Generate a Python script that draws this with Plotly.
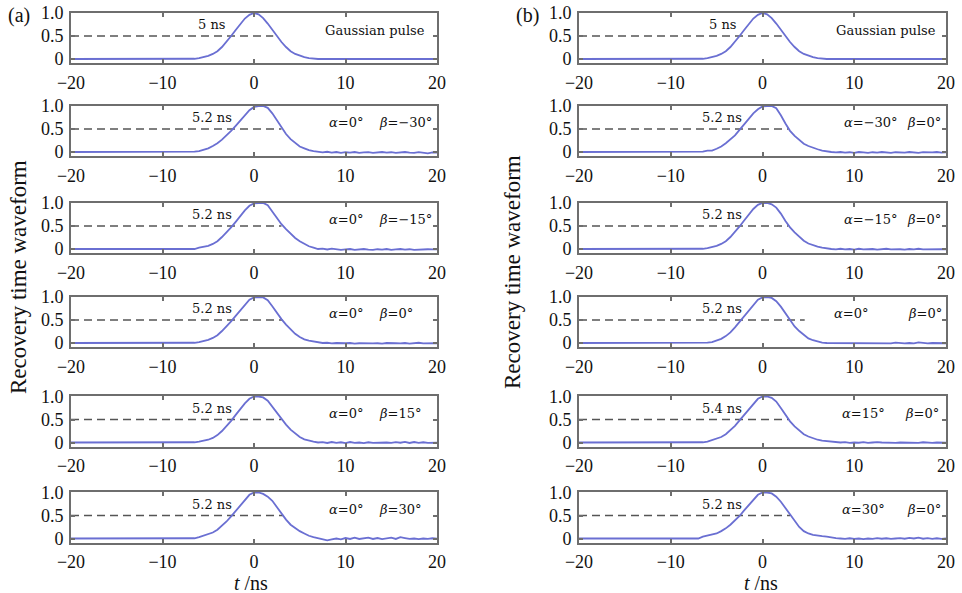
import plotly.graph_objects as go

# ---------------- data ----------------
t_ns = [-20,
        -7.5, -7, -6.5, -6, -5.5, -5, -4.5, -4, -3.5, -3, -2.5, -2, -1.5, -1, -0.5,
        0, 0.5, 1, 1.5, 2, 2.5, 3, 3.5, 4, 4.5, 5, 5.5, 6, 6.5, 7, 7.5,
        8, 8.5, 9, 9.5, 10, 10.5, 11, 11.5, 12, 12.5, 13, 13.5, 14, 14.5, 15,
        15.5, 16, 16.5, 17, 17.5, 18, 18.5, 19, 19.5, 20]

gaussian_pulse = [0,
    0, 0, 0.005, 0.02, 0.04, 0.07, 0.11, 0.17, 0.26, 0.37, 0.50, 0.63, 0.76, 0.88, 0.96,
    1.0, 0.97, 0.89, 0.77, 0.63, 0.50, 0.37, 0.26, 0.17, 0.11, 0.07, 0.04, 0.02, 0.005, 0, 0,
    0, 0, 0, 0, 0, 0, 0, 0, 0, 0, 0, 0, 0, 0, 0, 0, 0, 0, 0, 0, 0, 0, 0, 0, 0]

# (a) alpha = 0, beta varies
a_beta_m30 = [0,
    0, 0, 0.01, 0.02, 0.05, 0.08, 0.13, 0.19, 0.27, 0.36, 0.46, 0.57, 0.69, 0.80, 0.91,
    0.98, 1.0, 1.0, 0.96, 0.84, 0.68, 0.52, 0.39, 0.28, 0.19, 0.12, 0.08, 0.04, 0.02, 0.0, -0.01,
    0.005, -0.015, 0.0, -0.02, -0.005, -0.015, 0.0, -0.02, -0.01, -0.005, -0.02, -0.01, 0.0,
    -0.015, -0.005, -0.02, -0.01, 0.0, -0.015, -0.02, -0.005, -0.02, -0.03, -0.01, -0.015]
a_beta_m15 = [0,
    0, 0, 0, 0.03, 0.05, 0.07, 0.11, 0.17, 0.26, 0.36, 0.47, 0.59, 0.72, 0.84, 0.94,
    0.99, 1.0, 1.0, 0.95, 0.81, 0.67, 0.54, 0.43, 0.33, 0.24, 0.17, 0.11, 0.06, 0.03, 0.0, 0.01,
    -0.01, 0.01, -0.01, -0.02, -0.01, 0.0, -0.02, -0.01, 0.0, -0.015, -0.02, -0.005, -0.015,
    0.0, -0.02, -0.01, 0.0, -0.015, -0.005, -0.02, -0.01, -0.015, -0.005, -0.01, -0.01]
a_beta_0 = [0,
    0, 0, 0.005, 0.02, 0.04, 0.07, 0.11, 0.17, 0.26, 0.36, 0.47, 0.59, 0.71, 0.83, 0.94,
    0.99, 1.0, 0.99, 0.93, 0.80, 0.65, 0.52, 0.40, 0.29, 0.20, 0.13, 0.08, 0.05, 0.03, 0.01, 0.0,
    0.005, -0.01, 0.0, -0.01, -0.005, 0.0, -0.015, -0.005, -0.01, 0.0, -0.01, -0.005, -0.015,
    0.0, -0.01, -0.005, -0.01, 0.0, -0.015, -0.005, 0.005, -0.01, -0.005, -0.015, -0.005]
a_beta_15 = [0,
    0, 0, 0.005, 0.02, 0.04, 0.06, 0.10, 0.16, 0.25, 0.35, 0.47, 0.60, 0.73, 0.85, 0.95,
    1.0, 1.0, 0.98, 0.91, 0.78, 0.64, 0.51, 0.39, 0.28, 0.19, 0.12, 0.07, 0.04, 0.02, 0.0, 0.01,
    -0.01, 0.01, -0.01, 0.005, -0.015, 0.01, -0.01, 0.0, -0.015, 0.005, -0.01, -0.005, -0.015,
    0.0, -0.01, 0.01, -0.005, 0.015, -0.01, 0.01, -0.01, 0.005, -0.01, 0.0, -0.005]
a_beta_30 = [0,
    0, 0, 0.005, 0.03, 0.06, 0.09, 0.13, 0.19, 0.27, 0.37, 0.48, 0.60, 0.73, 0.85, 0.95,
    1.0, 1.0, 0.97, 0.91, 0.82, 0.68, 0.54, 0.41, 0.30, 0.22, 0.16, 0.11, 0.06, 0.03, 0.01, -0.02,
    -0.04, -0.02, 0.0, -0.02, 0.01, -0.01, 0.02, -0.01, 0.0, 0.02, -0.01, 0.01, -0.015,
    0.0, 0.02, -0.01, 0.03, 0.01, -0.01, 0.0, -0.015, 0.0, -0.01, 0.005, -0.005]

# (b) beta = 0, alpha varies
b_alpha_m30 = [0,
    0, 0, 0.01, 0.03, 0.03, 0.07, 0.12, 0.19, 0.27, 0.36, 0.48, 0.60, 0.73, 0.84, 0.93,
    0.99, 1.0, 1.0, 0.95, 0.80, 0.62, 0.46, 0.35, 0.26, 0.18, 0.13, 0.09, 0.06, 0.03, 0.01, 0.0,
    -0.01, 0.0, -0.015, -0.005, -0.02, 0.0, -0.01, -0.02, -0.005, -0.015, 0.0, -0.01, -0.02,
    -0.005, -0.01, -0.015, 0.0, -0.01, -0.02, -0.005, -0.015, -0.01, 0.0, -0.015, -0.01]
b_alpha_m15 = [0,
    0, 0, 0.005, 0.02, 0.04, 0.07, 0.11, 0.17, 0.26, 0.37, 0.49, 0.62, 0.75, 0.87, 0.96,
    1.0, 1.0, 0.97, 0.90, 0.77, 0.61, 0.47, 0.36, 0.26, 0.18, 0.12, 0.08, 0.05, 0.03, 0.01, 0.0,
    -0.01, 0.005, -0.01, 0.0, -0.015, 0.005, -0.01, -0.005, 0.0, -0.015, -0.005, 0.005, -0.01,
    0.0, -0.005, -0.015, 0.0, -0.01, 0.005, -0.01, -0.005, 0.0, -0.01, -0.005, -0.01]
b_alpha_0 = [0,
    0, 0, 0, 0.01, 0.02, 0.05, 0.09, 0.15, 0.23, 0.34, 0.46, 0.58, 0.70, 0.83, 0.94,
    0.99, 1.0, 0.98, 0.91, 0.79, 0.64, 0.49, 0.36, 0.26, 0.17, 0.10, 0.06, 0.03, 0.01, 0.0, 0.0,
    -0.005, 0.0, -0.01, 0.0, -0.005, -0.01, 0.0, -0.005, -0.01, 0.0, -0.005, 0.0, -0.01,
    0.01, -0.005, -0.01, 0.0, -0.01, 0.015, -0.005, -0.01, 0.0, -0.005, 0.0, -0.005]
b_alpha_15 = [0,
    0, 0, 0.005, 0.02, 0.05, 0.08, 0.12, 0.18, 0.26, 0.36, 0.48, 0.60, 0.73, 0.85, 0.95,
    1.0, 1.0, 0.97, 0.89, 0.75, 0.60, 0.46, 0.35, 0.26, 0.18, 0.13, 0.09, 0.06, 0.04, 0.03, 0.02,
    0.01, 0.0, 0.01, -0.01, 0.0, -0.005, 0.01, -0.01, 0.0, 0.01, 0.0, -0.005, 0.005,
    -0.01, 0.0, -0.005, -0.01, 0.0, -0.01, 0.005, -0.005, -0.01, 0.0, -0.005, -0.005]
b_alpha_30 = [0,
    0, 0, 0.04, 0.06, 0.08, 0.11, 0.16, 0.22, 0.30, 0.39, 0.49, 0.61, 0.73, 0.85, 0.95,
    1.0, 1.0, 0.98, 0.91, 0.80, 0.66, 0.51, 0.37, 0.25, 0.16, 0.11, 0.08, 0.06, 0.05, 0.04, 0.02,
    0.01, 0.0, -0.01, 0.005, -0.01, 0.0, -0.015, 0.0, -0.01, 0.01, -0.005, 0.005, -0.01,
    0.0, 0.01, -0.005, 0.015, 0.0, 0.02, -0.005, 0.01, -0.01, 0.005, -0.01, 0.0]

series_a = [gaussian_pulse, a_beta_m30, a_beta_m15, a_beta_0, a_beta_15, a_beta_30]
series_b = [gaussian_pulse, b_alpha_m30, b_alpha_m15, b_alpha_0, b_alpha_15, b_alpha_30]

fwhm_a = ["5 ns", "5.2 ns", "5.2 ns", "5.2 ns", "5.2 ns", "5.2 ns"]
fwhm_b = ["5 ns", "5.2 ns", "5.2 ns", "5.2 ns", "5.4 ns", "5.2 ns"]
alpha_a = [None, "0°", "0°", "0°", "0°", "0°"]
beta_a = [None, "−30°", "−15°", "0°", "15°", "30°"]
alpha_b = [None, "−30°", "−15°", "0°", "15°", "30°"]
beta_b = [None, "0°", "0°", "0°", "0°", "0°"]
half_level = 0.5
dash_end_a = [2.1, 3.0, 3.0, 3.1, 3.0, 3.2]
dash_end_b = [2.1, 2.8, 2.8, 4.6, 2.8, 3.0]

x_ticks = [-20, -10, 0, 10, 20]
y_ticks = [0, 0.5, 1.0]
y_ticktext = ["0", "0.5", "1.0"]

# ---------------- layout ----------------
W, H = 962, 593
row_one_px = [13, 106, 203, 297, 396.5, 492.5]   # pixel row of y = 1.0
unit_px = 46
y_lo, y_hi = -0.09, 1.01
col_px = [(71, 437), (579, 946)]

alpha_x_a = [None, 8.0, 8.0, 8.0, 8.0, 8.0]
beta_x_a = [None, 13.4, 13.4, 13.4, 13.4, 13.4]
alpha_x_b = [None, 8.66, 8.66, 7.6, 8.4, 8.4]
beta_x_b = [None, 15.5, 15.5, 15.6, 15.3, 15.5]
gauss_x = [13.2, 13.5]
fwhm_x = [-4.6, -4.4]

SERIF = "Liberation Serif, Times New Roman, Times, serif"
curve_color = "#6a6fd2"
frame_color = "#6e6e6e"
tick_font = dict(family=SERIF, size=18, color="#111")
ann_font = dict(family="DejaVu Serif, serif", size=13, color="#111")

fig = go.Figure()
layout = dict(width=W, height=H, margin=dict(l=0, r=0, t=0, b=0, autoexpand=False),
              autosize=False, paper_bgcolor="white", plot_bgcolor="white",
              showlegend=False, template="none", font=dict(family=SERIF))
annotations = []

for c, (series, fwhm, alist, blist, dend, ax_x, bx_x) in enumerate([
        (series_a, fwhm_a, alpha_a, beta_a, dash_end_a, alpha_x_a, beta_x_a),
        (series_b, fwhm_b, alpha_b, beta_b, dash_end_b, alpha_x_b, beta_x_b)]):
    for r in range(6):
        k = c * 6 + r + 1
        xa = "x" if k == 1 else f"x{k}"
        ya = "y" if k == 1 else f"y{k}"
        assert len(series[r]) == len(t_ns)
        px1 = row_one_px[r]
        top_px = px1 - (y_hi - 1.0) * unit_px
        bot_px = px1 + (1.0 - y_lo) * unit_px
        x0, x1 = col_px[c]
        axis_common = dict(showline=True, mirror="ticks", linecolor=frame_color, linewidth=2,
                           ticks="inside", ticklen=4, tickwidth=1.5, tickcolor=frame_color,
                           showgrid=False, zeroline=False, tickfont=tick_font,
                           automargin=False)
        layout["xaxis" if k == 1 else f"xaxis{k}"] = dict(
            domain=[x0 / W, x1 / W], range=[-20, 20], anchor=ya,
            tickvals=x_ticks, ticklabelstandoff=2, **axis_common)
        layout["yaxis" if k == 1 else f"yaxis{k}"] = dict(
            domain=[1 - bot_px / H, 1 - top_px / H], range=[y_lo, y_hi], anchor=xa,
            tickvals=y_ticks, ticktext=y_ticktext, ticklabelstandoff=2, **axis_common)

        fig.add_trace(go.Scatter(x=[t_ns[0], dend[r]], y=[half_level, half_level],
                                 mode="lines", xaxis=xa, yaxis=ya,
                                 line=dict(color="#555555", width=1.5, dash="8px,5px")))
        fig.add_trace(go.Scatter(x=t_ns, y=series[r], mode="lines", xaxis=xa, yaxis=ya,
                                 line=dict(color=curve_color, width=1.8)))

        annotations.append(dict(x=fwhm_x[c], y=0.74, xref=xa, yref=ya, text=fwhm[r],
                                showarrow=False, font=ann_font, xanchor="center",
                                yanchor="middle"))
        if r == 0:
            annotations.append(dict(x=gauss_x[c], y=0.62, xref=xa, yref=ya,
                                    text="Gaussian pulse", showarrow=False,
                                    font=ann_font, xanchor="center", yanchor="middle"))
        else:
            annotations.append(dict(x=ax_x[r], y=0.64, xref=xa, yref=ya,
                                    text="<i>α</i>=" + alist[r], showarrow=False,
                                    font=ann_font, xanchor="left", yanchor="middle"))
            annotations.append(dict(x=bx_x[r], y=0.64, xref=xa, yref=ya,
                                    text="<i>β</i>=" + blist[r], showarrow=False,
                                    font=ann_font, xanchor="left", yanchor="middle"))

title_font = dict(family=SERIF, size=23, color="#111")
label_font = dict(family=SERIF, size=20, color="#111")
panel_font = dict(family=SERIF, size=20, color="#111")
paper_texts = [
    (18, 277, "Recovery time waveform", -90, title_font),
    (513, 272, "Recovery time waveform", -90, title_font),
    (251, 583, "<i>t</i> /ns", 0, label_font),
    (761, 583, "<i>t</i> /ns", 0, label_font),
    (19, 15, "(a)", 0, panel_font),
    (527, 15, "(b)", 0, panel_font),
]
for px, py, txt, ang, fnt in paper_texts:
    annotations.append(dict(x=px / W, y=1 - py / H, xref="paper", yref="paper", text=txt,
                            textangle=ang, showarrow=False, font=fnt,
                            xanchor="center", yanchor="middle"))
layout["annotations"] = annotations
fig.update_layout(**layout)
fig.write_html("out.html")
